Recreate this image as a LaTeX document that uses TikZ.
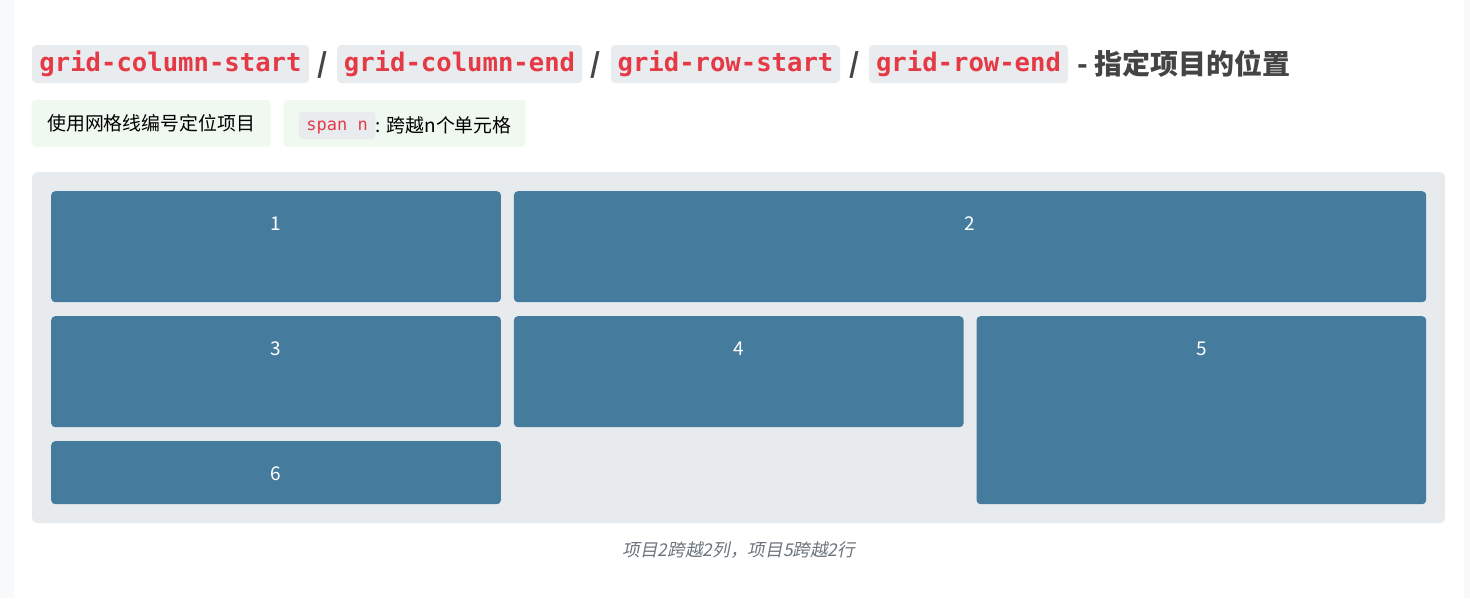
\documentclass[tikz,border=0pt]{standalone}
\usepackage{fontspec}
\setmainfont{Noto Sans CJK SC}
\setmonofont{DejaVu Sans Mono}
\newfontfamily\capfont{Noto Sans CJK SC}[FakeSlant=0.2]
\usepackage{tikz}
\usetikzlibrary{positioning}
\definecolor{pagelt}{HTML}{F8F9FA}
\definecolor{gridlt}{HTML}{E8EBEE}
\definecolor{cellblue}{HTML}{457B9D}
\definecolor{codered}{HTML}{E63946}
\definecolor{codelt}{HTML}{E9ECEF}
\definecolor{taglt}{HTML}{F0F9F0}
\definecolor{titlegray}{HTML}{444444}
\definecolor{capgray}{HTML}{6C757D}

\begin{document}
\begin{tikzpicture}[x=1pt, y=-1pt,
  cell/.style={fill=cellblue, rounded corners=4pt, minimum width=449.7pt, minimum height=111pt, anchor=north west, inner sep=0pt},
  num/.style={text=white, font=\fontsize{19}{23}\selectfont, inner sep=0pt},
  codebox/.style={fill=codelt, rounded corners=4pt, text=codered, font=\ttfamily\bfseries\fontsize{25.6}{30}\selectfont, minimum height=38pt, inner sep=0pt, text height=20pt, text depth=6pt},
  slash/.style={text=titlegray, font=\bfseries\fontsize{27}{32}\selectfont, inner sep=0pt},
  tagbox/.style={fill=taglt, rounded corners=4pt, minimum height=46.7pt, inner sep=0pt, font=\fontsize{18.9}{23}\selectfont},
]
% page
\fill[pagelt] (0,0) rectangle (1470,598);
\fill[white] (14,0) rectangle (1464,598);

% title line
\node[codebox, minimum width=277pt] (colstart) at (170.5,64) {grid-column-start};
\node[slash] (sl1) at (323,65) {/};
\node[codebox, minimum width=245pt] (colend) at (459.5,64) {grid-column-end};
\node[slash] (sl2) at (596,65) {/};
\node[codebox, minimum width=229pt] (rowstart) at (725.5,64) {grid-row-start};
\node[slash] (sl3) at (855,65) {/};
\node[codebox, minimum width=199pt] (rowend) at (968.5,64) {grid-row-end};
\node[slash, font=\bfseries\fontsize{28}{34}\selectfont, anchor=west] (title) at (1077,64) {- 指定项目的位置};

% tags
\node[tagbox, minimum width=239pt] (tagline) at (151.2,123.4) {使用网格线编号定位项目};
\node[tagbox, minimum width=242pt] (tagspan) at (404.7,123.4) {};
\node[fill=codelt, rounded corners=3pt, text=codered, font=\ttfamily\fontsize{17}{20}\selectfont, minimum width=76.5pt, minimum height=27pt, inner sep=0pt, text height=13pt, text depth=4pt] (spancode) at (337.2,125.5) {span n};
\node[inner sep=0pt, font=\fontsize{18.9}{23}\selectfont, right=0pt of spancode] (spantext) {: 跨越n个单元格};

% grid container
\node[fill=gridlt, rounded corners=5pt, minimum width=1413pt, minimum height=351pt, anchor=north west, inner sep=0pt] (grid) at (32,172) {};

\node[cell] (c1) at (51,191) {};
\node[cell, minimum width=912.3pt] (c2) at (513.7,191) {};
\node[cell] (c3) at (51,316) {};
\node[cell] (c4) at (513.7,316) {};
\node[cell, minimum height=188pt] (c5) at (976.3,316) {};
\node[cell, minimum height=63pt] (c6) at (51,441) {};

\node[num] (n1) at ([yshift=-33pt]c1.north) {1};
\node[num] (n2) at ([yshift=-33pt]c2.north) {2};
\node[num] (n3) at ([yshift=-33pt]c3.north) {3};
\node[num] (n4) at ([yshift=-33pt]c4.north) {4};
\node[num] (n5) at ([yshift=-33pt]c5.north) {5};
\node[num] (n6) at ([yshift=-33pt]c6.north) {6};

% caption
\node[font=\capfont\fontsize{17.6}{21}\selectfont, text=capgray, inner sep=0pt] (caption) at (739,550) {项目2跨越2列，项目5跨越2行};
\end{tikzpicture}
\end{document}
